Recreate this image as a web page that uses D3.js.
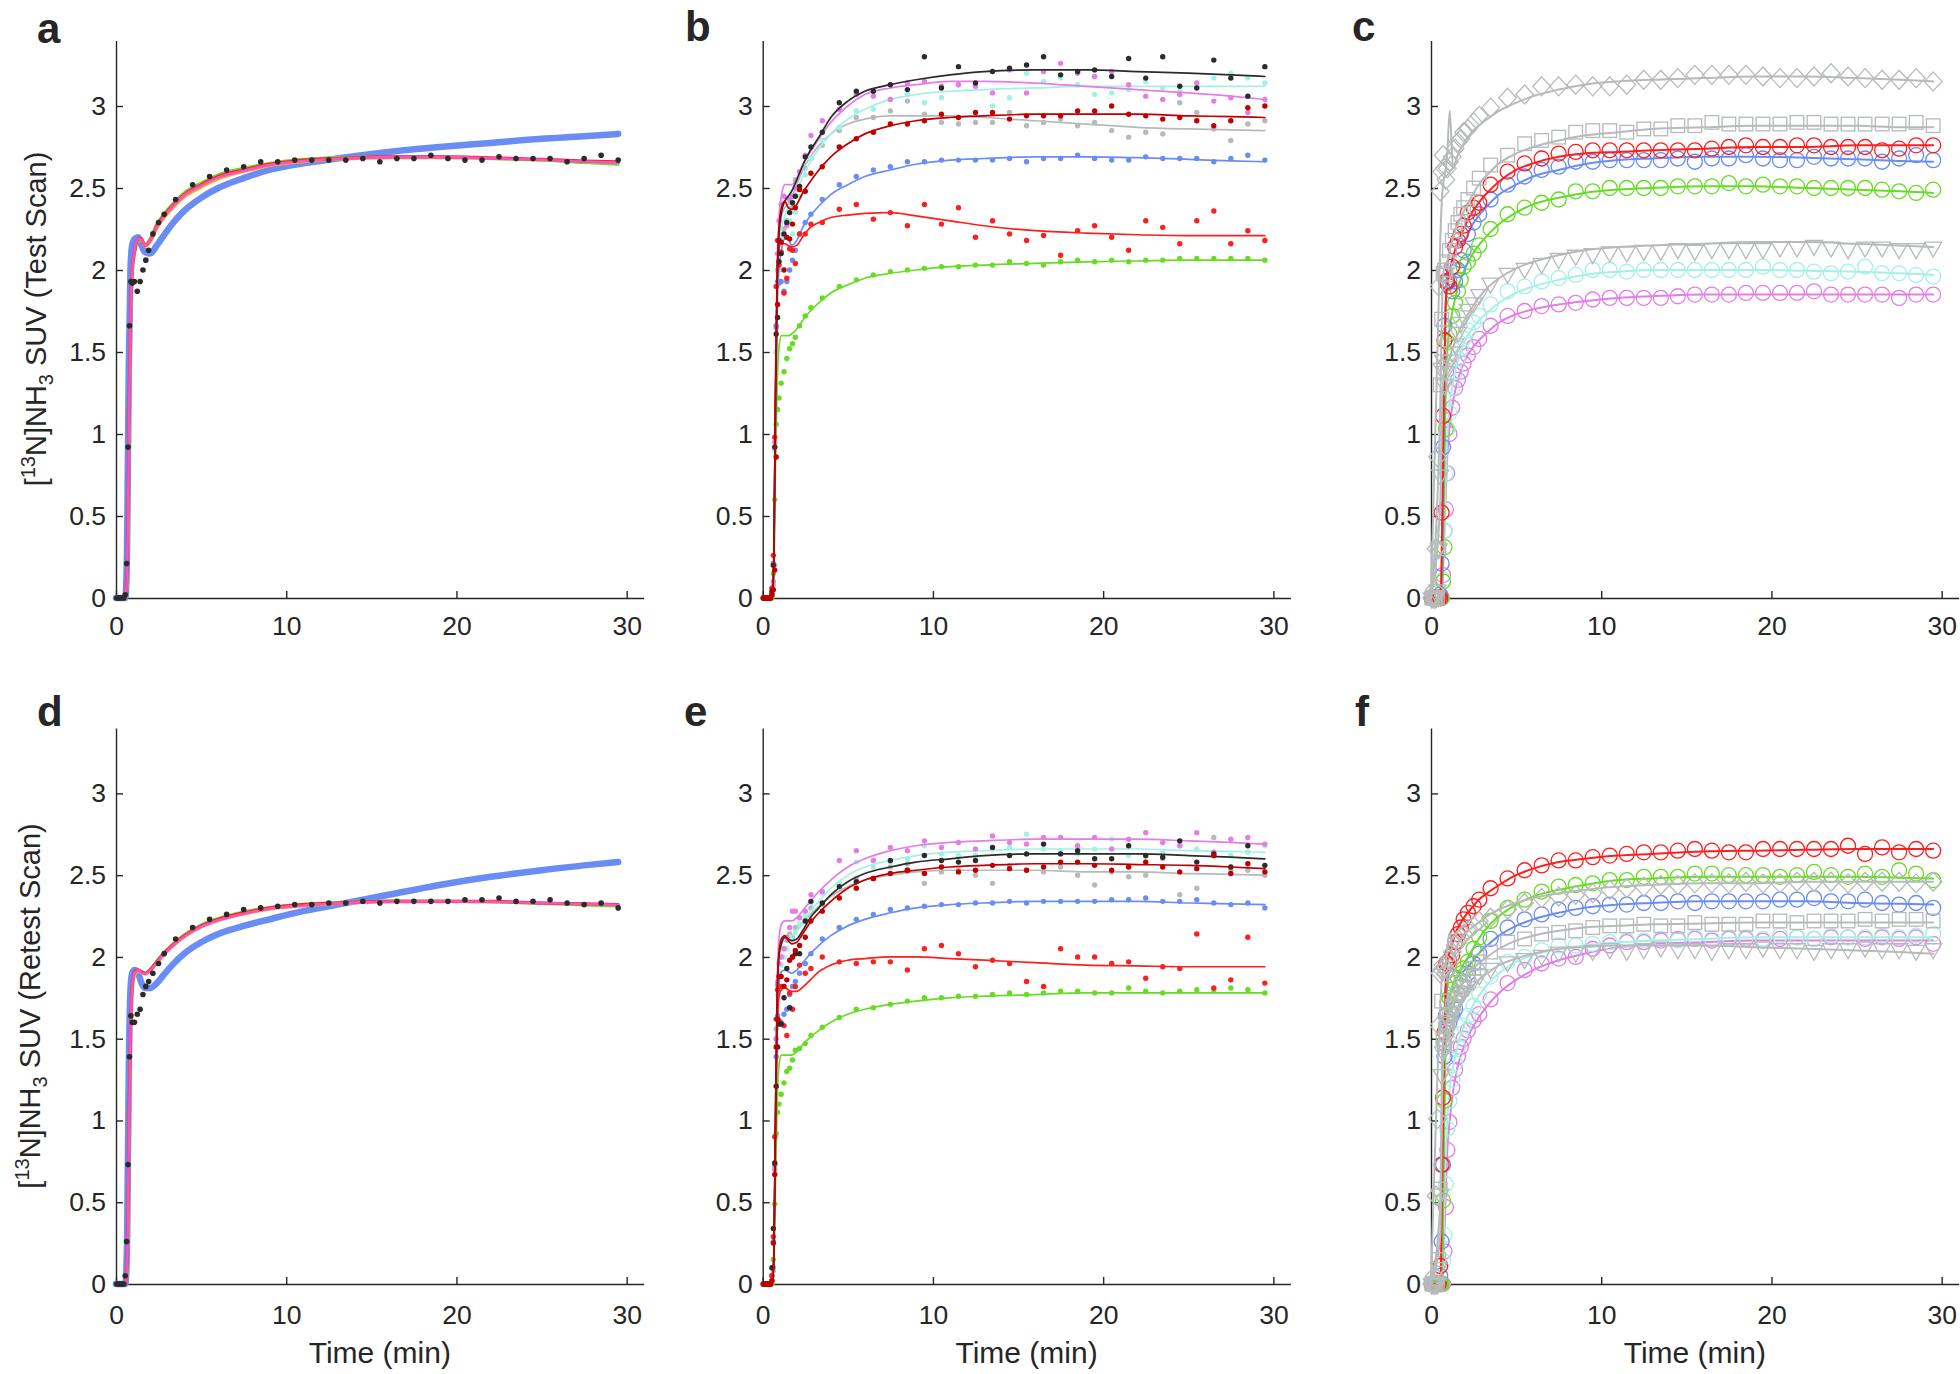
<!DOCTYPE html>
<html><head><meta charset="utf-8">
<script src="https://cdn.jsdelivr.net/npm/d3@7"></script>
<style>
body{margin:0;background:#fff}
svg text{font-family:"Liberation Sans",Arial,Helvetica,sans-serif;fill:#262626}
</style>
</head><body>
<svg id="chart" width="1960" height="1374"></svg>
<script>
// ---------- shared axes / time bases ----------
const T = [0.042,0.125,0.208,0.292,0.375,0.458,0.542,0.625,0.708,0.792,0.875,0.958,
  1.083,1.25,1.417,1.583,1.75,1.917,2.167,2.5,2.833,3.5,
  4.5,5.5,6.5,7.5,8.5,9.5,10.5,11.5,12.5,13.5,14.5,15.5,16.5,17.5,18.5,19.5,20.5,21.5,22.5,23.5,24.5,25.5,26.5,27.5,28.5,29.5];
const TF = [0,0.55,0.65,0.75,0.85,0.95,1.1,1.3,1.5,1.7,2.0,2.4,2.8,3.3,4.0,5.0,6.0,7.5,9.0,11,13,16,19,22,25,27.5,29.5];
const xTicks = [0,10,20,30];
const xTickLabels = ["0","10","20","30"];
const yTicks = [0,0.5,1,1.5,2,2.5,3];
const yTickLabels = ["0","0.5","1","1.5","2","2.5","3"];
const panelLetters = ["a","b","c","d","e","f"];
const yLabelMain = ["SUV (Test Scan)","SUV (Retest Scan)"];
const xLabelText = "Time (min)";

// ---------- panel a (test) ----------
const aData = [0,0,0,0,0,0,0.02,0.21,0.92,1.66,1.93,1.92, 1.93,1.87,1.93,2.00,2.06,2.12,2.22,2.29,2.34,2.43,
  2.52,2.57,2.61,2.63,2.66,2.66,2.67,2.67,2.67,2.67,2.68,2.66,2.68,2.68,2.70,2.68,2.67,2.67,2.69,2.68,2.68,2.68,2.66,2.68,2.70,2.67];
const aFitBlue = [0,0,0.3,1.4,2.0,2.15,2.19,2.2,2.15,2.11,2.10,2.15,2.21,2.28,2.36,2.44,2.50,2.56,2.61,2.65,2.68,2.72,2.75,2.775,2.80,2.815,2.83];
const aFitOrange = [0,0,0.08,0.85,1.66,1.96,2.1,2.18,2.18,2.145,2.17,2.255,2.315,2.375,2.445,2.505,2.555,2.60,2.635,2.66,2.675,2.685,2.685,2.68,2.67,2.66,2.655];
const aFitGreen = [0,0,0.1,0.9,1.7,1.98,2.11,2.18,2.18,2.155,2.19,2.28,2.34,2.40,2.47,2.53,2.58,2.62,2.65,2.675,2.685,2.69,2.69,2.68,2.67,2.655,2.645];
const aFitRed = [0,0,0.15,1.0,1.75,2.0,2.12,2.19,2.19,2.15,2.18,2.27,2.33,2.39,2.46,2.52,2.57,2.61,2.645,2.67,2.68,2.69,2.69,2.685,2.675,2.665,2.66];
const aFitMagenta = [0,0,0.12,0.95,1.72,1.99,2.12,2.19,2.185,2.15,2.18,2.265,2.325,2.385,2.455,2.515,2.565,2.605,2.64,2.665,2.678,2.688,2.688,2.682,2.672,2.662,2.655];

// ---------- panel d (retest) ----------
const dData = [0,0,0,0,0,0,0.05,0.26,0.73,1.39,1.64,1.60, 1.60,1.65,1.68,1.77,1.82,1.85,1.90,1.96,2.02,2.11,
  2.18,2.23,2.26,2.29,2.30,2.31,2.32,2.32,2.33,2.33,2.34,2.33,2.34,2.34,2.34,2.34,2.35,2.35,2.36,2.34,2.34,2.35,2.33,2.32,2.33,2.30];
const dFitBlue = [0,0,0.25,1.3,1.8,1.9,1.92,1.9,1.84,1.81,1.81,1.84,1.89,1.95,2.02,2.09,2.14,2.19,2.23,2.28,2.32,2.38,2.44,2.49,2.53,2.56,2.58];
const dFitOrange = [0,0,0.06,0.78,1.46,1.78,1.89,1.91,1.905,1.895,1.912,1.962,2.012,2.062,2.122,2.182,2.222,2.262,2.292,2.312,2.326,2.336,2.338,2.336,2.328,2.322,2.316];
const dFitGreen = [0,0,0.08,0.82,1.5,1.8,1.9,1.915,1.91,1.90,1.925,1.975,2.025,2.075,2.135,2.195,2.235,2.275,2.302,2.322,2.332,2.342,2.342,2.338,2.328,2.318,2.312];
const dFitRed = [0,0,0.12,0.9,1.55,1.82,1.91,1.92,1.91,1.90,1.92,1.97,2.02,2.07,2.13,2.19,2.23,2.27,2.30,2.32,2.33,2.34,2.34,2.34,2.33,2.325,2.32];
const dFitMagenta = [0,0,0.1,0.86,1.52,1.81,1.905,1.918,1.905,1.897,1.917,1.965,2.015,2.065,2.125,2.185,2.225,2.265,2.295,2.315,2.328,2.338,2.34,2.338,2.33,2.324,2.318];

// ---------- panel b ----------
const bBlack = [0,0,0,0,0,0,0.04,0.2,0.92,1.61,1.71,2.05, 2.10,2.22,2.29,2.35,2.41,2.45,2.51,2.69,2.75,2.84,
  3.02,3.09,3.09,3.13,3.10,3.30,3.11,3.24,3.14,3.21,3.23,3.25,3.30,3.19,3.21,3.22,3.18,3.29,3.17,3.30,3.12,3.11,3.28,3.17,3.06,3.24];
const bMagenta = [0,0,0,0,0,0,0.02,0.1,0.95,1.65,2.1,2.3, 2.4,2.45,2.27,2.43,2.45,2.5,2.6,2.70,2.82,2.91,
  2.98,3.07,3.06,3.04,3.14,3.15,3.12,3.13,3.12,3.08,3.22,3.08,3.21,3.26,3.20,3.18,3.21,3.13,3.06,3.04,3.07,3.14,3.03,3.05,2.96,3.04];
const bCyan = [0,0,0,0,0,0,0.02,0.1,0.9,1.5,1.9,2.0, 2.1,2.2,2.28,2.3,2.22,2.35,2.45,2.58,2.68,2.79,
  2.87,2.97,2.98,3.04,3.07,3.02,3.05,3.13,3.12,3.00,3.05,3.20,3.15,3.17,3.13,3.07,3.08,3.10,3.15,3.11,3.09,3.12,3.17,3.20,3.17,3.14];
const bGray = [0,0,0,0,0,0,0.02,0.08,0.2,1.5,2.0,2.1, 2.2,2.25,2.3,2.35,2.38,2.55,2.6,2.62,2.68,2.76,
  2.85,2.93,2.93,2.97,3.03,2.95,2.90,2.89,2.90,2.90,2.96,2.88,2.90,2.92,2.88,2.90,2.85,2.81,2.84,2.83,3.02,2.96,2.86,2.79,2.89,2.91];
const bDarkRed = [0,0,0,0,0,0,0.02,0.05,0.17,0.86,1.79,2.18, 2.17,2.0,2.2,2.19,2.28,2.38,2.49,2.48,2.59,2.63,
  2.75,2.80,2.84,2.89,2.89,2.91,2.95,2.93,2.96,2.96,2.92,2.94,2.94,2.94,2.97,2.97,3.00,2.95,2.94,2.92,2.93,2.91,2.88,2.91,2.99,3.00];
const bRed = [0,0,0,0,0,0,0.06,0.26,0.98,1.9,2.18,2.03, 2.11,1.86,1.95,2.13,2.12,2.04,2.22,2.22,2.28,2.29,
  2.37,2.40,2.31,2.35,2.27,2.40,2.28,2.38,2.20,2.30,2.22,2.18,2.21,2.09,2.24,2.27,2.20,2.12,2.30,2.26,2.16,2.30,2.36,2.16,2.24,2.18];
const bGreen = [0,0,0,0,0,0,0,0.15,0.6,1.06,1.15,1.22, 1.31,1.38,1.46,1.52,1.55,1.59,1.66,1.72,1.77,1.83,
  1.90,1.94,1.97,1.99,2.00,2.01,2.02,2.02,2.03,2.03,2.05,2.04,2.03,2.05,2.06,2.05,2.06,2.05,2.06,2.06,2.07,2.07,2.07,2.07,2.07,2.06];
const bBlackFit = [0,0,0.2,1.2,1.9,2.2,2.35,2.42,2.45,2.48,2.55,2.65,2.73,2.81,2.93,3.03,3.09,3.13,3.16,3.19,3.21,3.22,3.22,3.21,3.20,3.19,3.18];
const bMagentaFit = [0,0,0.2,1.2,2.0,2.3,2.45,2.52,2.52,2.52,2.56,2.65,2.72,2.80,2.90,3.00,3.07,3.11,3.13,3.15,3.15,3.14,3.12,3.10,3.08,3.06,3.04];
const bCyanFit = [0,0,0.2,1.1,1.8,2.1,2.25,2.33,2.38,2.42,2.48,2.58,2.66,2.74,2.83,2.92,2.98,3.04,3.07,3.09,3.10,3.11,3.12,3.12,3.12,3.12,3.12];
const bGrayFit = [0,0,0.2,1.2,1.9,2.2,2.33,2.38,2.40,2.44,2.52,2.62,2.69,2.76,2.83,2.89,2.92,2.94,2.94,2.94,2.93,2.91,2.89,2.87,2.86,2.855,2.85];
const bDarkRedFit = [0,0,0.2,1.2,1.95,2.25,2.38,2.42,2.38,2.37,2.40,2.48,2.54,2.61,2.69,2.77,2.83,2.88,2.91,2.93,2.94,2.95,2.95,2.95,2.94,2.935,2.93];
const bRedFit = [0,0,0.25,1.3,2.0,2.13,2.16,2.16,2.15,2.14,2.15,2.21,2.26,2.29,2.32,2.335,2.345,2.35,2.33,2.30,2.27,2.24,2.225,2.215,2.21,2.21,2.21];
const bGreenFit = [0,0,0.1,0.8,1.3,1.52,1.60,1.60,1.60,1.61,1.64,1.70,1.75,1.80,1.86,1.91,1.95,1.98,2.00,2.02,2.03,2.04,2.05,2.055,2.06,2.06,2.06];

// ---------- panel e ----------
const eMagenta = [0,0,0,0,0,0,0.02,0.1,0.7,1.5,1.83,1.96, 2.0,2.05,2.12,2.18,2.28,2.28,2.24,2.28,2.38,2.40,
  2.59,2.65,2.59,2.67,2.65,2.71,2.67,2.70,2.66,2.74,2.70,2.69,2.73,2.73,2.68,2.73,2.66,2.72,2.76,2.70,2.68,2.76,2.64,2.72,2.73,2.69];
const eCyan = [0,0,0,0,0,0,0.02,0.1,0.7,1.5,1.77,1.9, 1.95,2.0,2.05,2.12,2.1,2.15,2.2,2.25,2.33,2.39,
  2.45,2.58,2.55,2.58,2.60,2.68,2.63,2.62,2.62,2.66,2.67,2.75,2.66,2.65,2.63,2.66,2.72,2.62,2.61,2.64,2.68,2.66,2.64,2.62,2.64,2.68];
const eBlack = [0,0,0,0,0,0,0.1,0.34,0.74,1.21,1.45,1.59, 1.59,1.75,1.93,1.69,2.0,2.02,2.02,2.22,2.34,2.33,
  2.43,2.46,2.48,2.59,2.53,2.62,2.59,2.58,2.59,2.67,2.62,2.63,2.69,2.63,2.65,2.60,2.60,2.68,2.62,2.61,2.71,2.58,2.63,2.55,2.68,2.56];
const eGray = [0,0,0,0,0,0,0.02,0.08,0.72,1.56,1.85,1.9, 2.0,2.05,2.1,2.14,2.12,2.18,2.2,2.22,2.3,2.32,
  2.45,2.48,2.48,2.55,2.57,2.45,2.52,2.53,2.50,2.45,2.56,2.53,2.52,2.55,2.50,2.44,2.52,2.49,2.50,2.60,2.38,2.42,2.73,2.53,2.53,2.50];
const eDarkRed = [0,0,0,0,0,0,0.02,0.25,0.67,1.45,1.62,1.88, 1.88,1.82,1.86,1.98,2.0,2.04,2.07,2.12,2.22,2.28,
  2.36,2.42,2.48,2.51,2.53,2.51,2.55,2.52,2.53,2.56,2.54,2.53,2.55,2.58,2.58,2.56,2.53,2.55,2.58,2.55,2.52,2.54,2.62,2.51,2.57,2.52];
const eRed = [0,0,0,0,0,0,0.05,0.29,0.9,1.62,1.8,1.61, 1.82,1.58,1.52,1.78,1.68,1.82,1.95,1.90,1.93,2.0,
  1.97,1.96,1.97,1.97,1.92,2.05,2.07,2.02,1.94,1.98,1.96,1.85,1.82,2.05,2.00,2.00,1.96,1.97,1.87,1.94,1.93,2.14,1.81,1.86,2.12,1.84];
const eGreen = [0,0,0,0,0,0,0,0.15,0.49,0.92,1.05,1.1, 1.16,1.23,1.30,1.32,1.37,1.43,1.44,1.47,1.52,1.57,
  1.63,1.68,1.69,1.71,1.73,1.75,1.75,1.76,1.76,1.77,1.78,1.77,1.78,1.79,1.79,1.78,1.78,1.81,1.79,1.78,1.79,1.80,1.80,1.81,1.80,1.78];
const eMagentaFit = [0,0,0.15,1.0,1.8,2.1,2.2,2.22,2.22,2.22,2.24,2.29,2.34,2.40,2.47,2.55,2.60,2.65,2.68,2.70,2.71,2.72,2.72,2.72,2.71,2.70,2.69];
const eCyanFit = [0,0,0.15,0.95,1.7,2.0,2.08,2.11,2.12,2.13,2.16,2.22,2.28,2.34,2.42,2.50,2.55,2.59,2.62,2.64,2.65,2.66,2.66,2.66,2.65,2.645,2.64];
const eBlackFit = [0,0,0.15,1.0,1.75,2.0,2.08,2.12,2.11,2.10,2.11,2.17,2.24,2.30,2.38,2.46,2.51,2.55,2.58,2.60,2.62,2.63,2.63,2.63,2.62,2.61,2.60];
const eGrayFit = [0,0,0.15,1.0,1.75,2.0,2.08,2.11,2.12,2.13,2.16,2.21,2.26,2.31,2.37,2.43,2.47,2.50,2.52,2.53,2.53,2.53,2.52,2.52,2.51,2.505,2.50];
const eDarkRedFit = [0,0,0.15,1.0,1.75,2.02,2.11,2.13,2.10,2.08,2.09,2.15,2.21,2.27,2.34,2.42,2.47,2.51,2.53,2.55,2.56,2.57,2.57,2.565,2.56,2.55,2.54];
const eRedFit = [0,0,0.15,0.9,1.55,1.75,1.80,1.81,1.80,1.79,1.79,1.82,1.86,1.91,1.95,1.98,1.99,2.00,2.00,1.99,1.98,1.965,1.95,1.945,1.94,1.94,1.94];
const eGreenFit = [0,0,0.1,0.6,1.1,1.33,1.40,1.40,1.40,1.40,1.42,1.47,1.51,1.55,1.60,1.65,1.68,1.71,1.73,1.75,1.76,1.77,1.78,1.78,1.78,1.78,1.78];

// ---------- panel c ----------
const cDiamond = [0,0.02,0.05,0.3,0.86,1.9,2.48,2.6,2.7,2.62,2.55,2.62, 2.66,2.69,2.74,2.78,2.80,2.84,2.86,2.90,2.94,2.99,
  3.05,3.07,3.12,3.12,3.13,3.12,3.12,3.13,3.16,3.16,3.17,3.19,3.19,3.19,3.19,3.18,3.17,3.17,3.18,3.20,3.18,3.17,3.16,3.16,3.17,3.15];
const cSquare = [0,0,0,0,0,0.3,1.3,1.7,1.98,2.0,1.97,2.05, 2.12,2.18,2.24,2.29,2.34,2.38,2.43,2.50,2.56,2.64,
  2.70,2.77,2.79,2.81,2.84,2.85,2.85,2.84,2.86,2.86,2.88,2.88,2.90,2.89,2.89,2.89,2.89,2.90,2.90,2.89,2.89,2.89,2.89,2.89,2.90,2.88];
const cRed = [0,0,0,0,0,0,0,0.52,1.11,1.57,1.93,1.93, 1.90,2.02,2.14,2.18,2.22,2.27,2.35,2.38,2.41,2.52,
  2.60,2.65,2.68,2.71,2.72,2.73,2.73,2.73,2.73,2.73,2.73,2.73,2.74,2.75,2.76,2.75,2.75,2.76,2.76,2.75,2.75,2.75,2.73,2.74,2.76,2.76];
const cGreen = [0,0,0,0,0,0,0,0,0.1,0.31,1.03,1.56, 1.61,1.72,1.80,1.87,1.94,2.02,2.05,2.10,2.15,2.25,
  2.34,2.38,2.41,2.43,2.48,2.48,2.50,2.50,2.50,2.50,2.51,2.51,2.51,2.53,2.51,2.52,2.51,2.51,2.50,2.50,2.50,2.50,2.49,2.48,2.47,2.49];
const cTri = [0,0,0,0,0.05,0.3,0.75,1.4,1.45,1.3,1.38,1.42, 1.45,1.5,1.55,1.62,1.68,1.72,1.76,1.80,1.85,1.92,
  1.98,2.01,2.04,2.07,2.09,2.10,2.11,2.11,2.12,2.12,2.13,2.12,2.13,2.13,2.13,2.13,2.14,2.14,2.15,2.14,2.13,2.14,2.14,2.13,2.13,2.14];
const cCyan = [0,0,0,0,0,0,0,0,0.11,0.41,0.76,1.03, 1.13,1.28,1.38,1.46,1.52,1.58,1.63,1.68,1.72,1.79,
  1.87,1.90,1.93,1.95,1.97,2.00,2.00,1.99,2.00,2.00,2.00,2.00,2.00,2.00,2.00,2.02,2.00,2.00,1.99,1.98,1.99,2.02,1.98,1.98,1.97,1.96];
const cMagenta = [0,0,0,0,0,0,0,0,0.14,0.41,0.54,0.76, 1.0,1.16,1.28,1.33,1.38,1.43,1.48,1.53,1.58,1.66,
  1.72,1.75,1.78,1.79,1.80,1.82,1.83,1.83,1.83,1.83,1.84,1.85,1.85,1.85,1.86,1.86,1.86,1.86,1.87,1.85,1.85,1.85,1.85,1.83,1.85,1.85];
const cDiamondFit = [0,2.2,2.45,2.55,2.6,2.7,2.97,2.62,2.68,2.73,2.78,2.84,2.88,2.92,2.97,3.02,3.06,3.10,3.13,3.15,3.16,3.17,3.18,3.18,3.17,3.16,3.15];
const cSquareFit = [0,1.2,1.8,2.0,2.02,2.05,2.12,2.2,2.26,2.31,2.37,2.45,2.52,2.58,2.65,2.71,2.75,2.79,2.82,2.84,2.86,2.87,2.88,2.88,2.88,2.87,2.87];
const cRedFit = [0,0,0.4,1.2,1.75,1.9,2.0,2.08,2.15,2.2,2.27,2.35,2.41,2.47,2.54,2.61,2.65,2.69,2.71,2.72,2.73,2.74,2.75,2.75,2.76,2.76,2.76];
const cGreenFit = [0,0,0.05,0.5,1.2,1.5,1.65,1.77,1.86,1.93,2.01,2.09,2.15,2.21,2.28,2.35,2.40,2.44,2.47,2.49,2.50,2.51,2.51,2.50,2.49,2.48,2.47];
const cTriFit = [0,0.6,1.2,1.35,1.4,1.42,1.47,1.53,1.59,1.64,1.70,1.77,1.83,1.89,1.95,2.01,2.05,2.09,2.12,2.14,2.15,2.16,2.17,2.17,2.16,2.15,2.14];
const cCyanFit = [0,0,0.05,0.3,0.7,0.98,1.18,1.32,1.42,1.49,1.57,1.64,1.69,1.74,1.80,1.86,1.90,1.94,1.97,1.99,2.0,2.0,2.0,1.995,1.99,1.98,1.97];
const cMagentaFit = [0,0,0.05,0.3,0.6,0.85,1.05,1.2,1.3,1.37,1.45,1.52,1.57,1.62,1.68,1.73,1.76,1.79,1.81,1.83,1.84,1.85,1.85,1.85,1.85,1.85,1.85];

// ---------- panel f ----------
const fRed = [0,0,0,0,0,0,0.11,0.73,1.14,1.54,1.96,1.96, 1.98,2.01,2.09,2.14,2.18,2.23,2.27,2.31,2.35,2.42,
  2.48,2.53,2.56,2.59,2.59,2.61,2.62,2.63,2.64,2.64,2.65,2.66,2.65,2.64,2.64,2.66,2.66,2.66,2.66,2.66,2.68,2.63,2.67,2.64,2.66,2.65];
const fGreen = [0,0,0,0,0,0,0,0,0.51,1.12,1.58,1.72, 1.75,1.8,1.84,1.87,1.9,1.93,1.97,2.05,2.12,2.22,
  2.30,2.35,2.40,2.43,2.44,2.45,2.47,2.47,2.49,2.49,2.49,2.51,2.51,2.50,2.50,2.50,2.49,2.50,2.52,2.50,2.49,2.51,2.49,2.53,2.51,2.47];
const fDiamond = [0,0,0.05,0.54,1.01,1.58,1.9,1.92,1.95,1.93,1.9,1.92, 1.98,2.03,2.07,2.09,2.12,2.14,2.16,2.19,2.22,2.24,
  2.29,2.33,2.36,2.37,2.38,2.39,2.41,2.42,2.43,2.44,2.44,2.45,2.45,2.45,2.46,2.45,2.45,2.46,2.46,2.46,2.45,2.46,2.46,2.46,2.45,2.46];
const fSquare = [0,0,0,0,0,0.15,0.58,1.73,1.5,1.45,1.55,1.6, 1.65,1.7,1.74,1.78,1.82,1.85,1.89,1.93,1.97,2.03,
  2.09,2.11,2.14,2.15,2.16,2.18,2.19,2.19,2.20,2.19,2.19,2.21,2.20,2.20,2.20,2.22,2.22,2.21,2.22,2.22,2.22,2.23,2.22,2.23,2.23,2.22];
const fCyan = [0,0,0,0,0,0,0,0,0.14,0.3,0.61,0.95, 1.12,1.25,1.35,1.45,1.53,1.58,1.64,1.70,1.77,1.88,
  1.97,2.00,2.04,2.07,2.07,2.08,2.09,2.10,2.10,2.11,2.10,2.12,2.11,2.12,2.12,2.11,2.13,2.12,2.11,2.13,2.12,2.12,2.13,2.12,2.13,2.14];
const fMagenta = [0,0,0,0,0,0,0,0,0,0.2,0.47,0.82, 0.99,1.2,1.31,1.39,1.45,1.5,1.55,1.61,1.65,1.74,
  1.84,1.92,1.96,1.99,2.00,2.05,2.07,2.09,2.09,2.10,2.11,2.11,2.10,2.11,2.11,2.10,2.11,2.12,2.11,2.12,2.12,2.11,2.12,2.11,2.12,2.08];
const fTri = [0,0,0,0,0,0.1,0.55,1.28,1.42,1.45,1.5,1.55, 1.6,1.65,1.7,1.73,1.76,1.79,1.82,1.86,1.89,1.93,
  1.97,1.99,2.01,2.03,2.03,2.04,2.05,2.04,2.05,2.06,2.05,2.05,2.04,2.05,2.05,2.06,2.05,2.05,2.04,2.05,2.05,2.06,2.05,2.05,2.04,2.05];
const fRedFit = [0,0,0.6,1.3,1.8,1.97,2.03,2.1,2.16,2.2,2.25,2.3,2.35,2.39,2.44,2.5,2.54,2.58,2.60,2.62,2.63,2.645,2.65,2.655,2.66,2.66,2.66];
const fGreenFit = [0,0,0.1,0.8,1.4,1.65,1.76,1.83,1.88,1.92,1.97,2.04,2.11,2.18,2.25,2.32,2.37,2.41,2.44,2.47,2.48,2.49,2.49,2.49,2.49,2.485,2.48];
const fDiamondFit = [0,1.7,1.88,1.92,1.95,2.05,2.15,2.0,2.06,2.1,2.14,2.18,2.21,2.25,2.29,2.33,2.36,2.39,2.41,2.43,2.44,2.45,2.45,2.46,2.46,2.46,2.46];
const fSquareFit = [0,0.5,1.4,1.5,1.55,1.6,1.66,1.72,1.77,1.81,1.86,1.92,1.96,2.0,2.05,2.10,2.13,2.16,2.18,2.19,2.20,2.205,2.21,2.21,2.21,2.21,2.21];
const fCyanFit = [0,0,0.05,0.3,0.75,1.0,1.2,1.33,1.43,1.51,1.6,1.69,1.76,1.83,1.90,1.97,2.01,2.05,2.07,2.09,2.10,2.11,2.12,2.12,2.12,2.12,2.12];
const fMagentaFit = [0,0,0,0.2,0.5,0.8,1.0,1.18,1.3,1.38,1.47,1.56,1.63,1.70,1.78,1.86,1.92,1.98,2.02,2.06,2.08,2.09,2.10,2.10,2.10,2.10,2.10];
const fTriFit = [0,0.3,1.1,1.4,1.45,1.5,1.56,1.63,1.68,1.72,1.77,1.82,1.86,1.90,1.95,1.99,2.02,2.05,2.06,2.07,2.07,2.07,2.06,2.05,2.04,2.03,2.02];

// ---------- styling (kept out of data) ----------
const COL = {black:"#2b2b2b", magenta:"#e47de6", cyan:"#a4f0e6", gray:"#b7baba", darkred:"#c00000",
  blue:"#6a8cf5", red:"#ff1e1e", green:"#66dd22", orange:"#f5a623", pink:"#ff4fc4"};
const TXT = "#262626";
const COLS_X = [116, 762.7, 1431];
const PW = 527.7;
const ROWS_Y = [{base:598, top:40.4}, {base:1284, top:728}];
const TICK_FONT = 26.5;

const svg = d3.select("#chart");

function makePanel(col,row){
  const x = d3.scaleLinear().domain([0,31]).range([COLS_X[col], COLS_X[col]+PW]);
  const y = d3.scaleLinear().domain([0,3.4]).range([ROWS_Y[row].base, ROWS_Y[row].top]);
  const g = svg.append("g");
  const xa = d3.axisBottom(x).tickValues(xTicks).tickFormat((d,i)=>xTickLabels[i])
    .tickSize(-7).tickSizeOuter(0).tickPadding(row===0?18.5:21.5);
  const ya = d3.axisLeft(y).tickValues(yTicks).tickFormat((d,i)=>yTickLabels[i])
    .tickSize(-7).tickSizeOuter(0).tickPadding(10);
  const gx = g.append("g").attr("transform",`translate(0,${y(0)})`).call(xa);
  const gy = g.append("g").attr("transform",`translate(${x(0)},0)`).call(ya);
  [gx,gy].forEach(a=>{
    a.attr("font-size",TICK_FONT).attr("font-family",'"Liberation Sans",Arial,sans-serif');
    a.selectAll("path,line").attr("stroke",TXT).attr("stroke-width",1.4);
    a.selectAll("text").attr("fill",TXT);
  });
  const layer = g.append("g");
  return {x,y,g:layer,col,row};
}

function fitLine(p, vals, color, width){
  const line = d3.line().x((d,i)=>p.x(TF[i])).y(d=>p.y(d)).curve(d3.curveMonotoneX);
  p.g.append("path").datum(vals).attr("d",line).attr("fill","none")
    .attr("stroke",color).attr("stroke-width",width).attr("stroke-linejoin","round").attr("stroke-linecap","round");
}
function dots(p, vals, color, r){
  p.g.append("g").selectAll("circle").data(vals).join("circle")
    .attr("cx",(d,i)=>p.x(T[i])).attr("cy",d=>p.y(d)).attr("r",r).attr("fill",color);
}
function markers(p, vals, color, shape){
  const gg = p.g.append("g").attr("fill","none").attr("stroke",color).attr("stroke-width",1.3);
  vals.forEach((v,i)=>{
    const cx=p.x(T[i]), cy=p.y(v);
    if(shape==="o") gg.append("circle").attr("cx",cx).attr("cy",cy).attr("r",7.5);
    else if(shape==="s") gg.append("rect").attr("x",cx-6.8).attr("y",cy-6.8).attr("width",13.6).attr("height",13.6);
    else if(shape==="d") gg.append("path").attr("d",`M${cx},${cy-9.5}L${cx+8.8},${cy}L${cx},${cy+9.5}L${cx-8.8},${cy}Z`);
    else if(shape==="v") gg.append("path").attr("d",`M${cx-8.5},${cy-5}L${cx+8.5},${cy-5}L${cx},${cy+10}Z`);
  });
}

function letter(txt,x,y){ svg.append("text").attr("x",x).attr("y",y).attr("font-size",42).attr("font-weight","bold").text(txt); }
function yLabel(x,cy,main){
  const t = svg.append("text").attr("transform",`translate(${x},${cy}) rotate(-90)`)
    .attr("text-anchor","middle").attr("font-size",29);
  t.append("tspan").text("[");
  t.append("tspan").attr("font-size",20).attr("dy",-11).text("13");
  t.append("tspan").attr("dy",11).text("N]NH");
  t.append("tspan").attr("font-size",20).attr("dy",7).text("3");
  t.append("tspan").attr("dy",-7).text(" "+main);
}
function xLabel(col){
  svg.append("text").attr("x",COLS_X[col]+PW/2).attr("y",1363).attr("text-anchor","middle")
    .attr("font-size",30).text(xLabelText);
}

// ----- a -----
let p = makePanel(0,0);
fitLine(p,aFitBlue,COL.blue,6.5);
fitLine(p,aFitOrange,COL.orange,3);
fitLine(p,aFitGreen,COL.green,3);
fitLine(p,aFitRed,COL.red,3);
fitLine(p,aFitMagenta,COL.pink,2.6);
dots(p,aData,COL.black,2.8);

// ----- d -----
p = makePanel(0,1);
fitLine(p,dFitBlue,COL.blue,6.5);
fitLine(p,dFitOrange,COL.orange,3);
fitLine(p,dFitGreen,COL.green,3);
fitLine(p,dFitRed,COL.red,3);
fitLine(p,dFitMagenta,COL.pink,2.6);
dots(p,dData,COL.black,2.8);

// ----- b -----
p = makePanel(1,0);
[[bGray,bGrayFit,COL.gray],[bCyan,bCyanFit,COL.cyan],[bMagenta,bMagentaFit,COL.magenta],
 [bGreen,bGreenFit,COL.green],[aData,aFitRed,COL.blue],[bRed,bRedFit,COL.red],
 [bBlack,bBlackFit,COL.black],[bDarkRed,bDarkRedFit,COL.darkred]].forEach(s=>{
  dots(p,s[0],s[2],2.7); fitLine(p,s[1],s[2],1.7);
});

// ----- e -----
p = makePanel(1,1);
[[eGray,eGrayFit,COL.gray],[eCyan,eCyanFit,COL.cyan],[eMagenta,eMagentaFit,COL.magenta],
 [eGreen,eGreenFit,COL.green],[dData,dFitRed,COL.blue],[eRed,eRedFit,COL.red],
 [eBlack,eBlackFit,COL.black],[eDarkRed,eDarkRedFit,COL.darkred]].forEach(s=>{
  dots(p,s[0],s[2],2.7); fitLine(p,s[1],s[2],1.7);
});

// ----- c -----
p = makePanel(2,0);
[[cMagenta,cMagentaFit,COL.magenta,"o"],[cCyan,cCyanFit,COL.cyan,"o"],[cGreen,cGreenFit,COL.green,"o"],
 [aData,aFitRed,COL.blue,"o"],[cRed,cRedFit,COL.red,"o"],
 [cTri,cTriFit,COL.gray,"v"],[cSquare,cSquareFit,COL.gray,"s"],[cDiamond,cDiamondFit,COL.gray,"d"]].forEach(s=>{
  markers(p,s[0],s[2],s[3]); fitLine(p,s[1],s[2],2);
});

// ----- f -----
p = makePanel(2,1);
[[fMagenta,fMagentaFit,COL.magenta,"o"],[fCyan,fCyanFit,COL.cyan,"o"],[dData,dFitRed,COL.blue,"o"],
 [fGreen,fGreenFit,COL.green,"o"],[fRed,fRedFit,COL.red,"o"],
 [fTri,fTriFit,COL.gray,"v"],[fSquare,fSquareFit,COL.gray,"s"],[fDiamond,fDiamondFit,COL.gray,"d"]].forEach(s=>{
  markers(p,s[0],s[2],s[3]); fitLine(p,s[1],s[2],2);
});

letter(panelLetters[0],37,43); letter(panelLetters[1],685,41); letter(panelLetters[2],1352,41);
letter(panelLetters[3],37,726); letter(panelLetters[4],684,726); letter(panelLetters[5],1355,726);
yLabel(46,319,yLabelMain[0]);
yLabel(40,1006,yLabelMain[1]);
xLabel(0); xLabel(1); xLabel(2);
</script>
</body></html>
